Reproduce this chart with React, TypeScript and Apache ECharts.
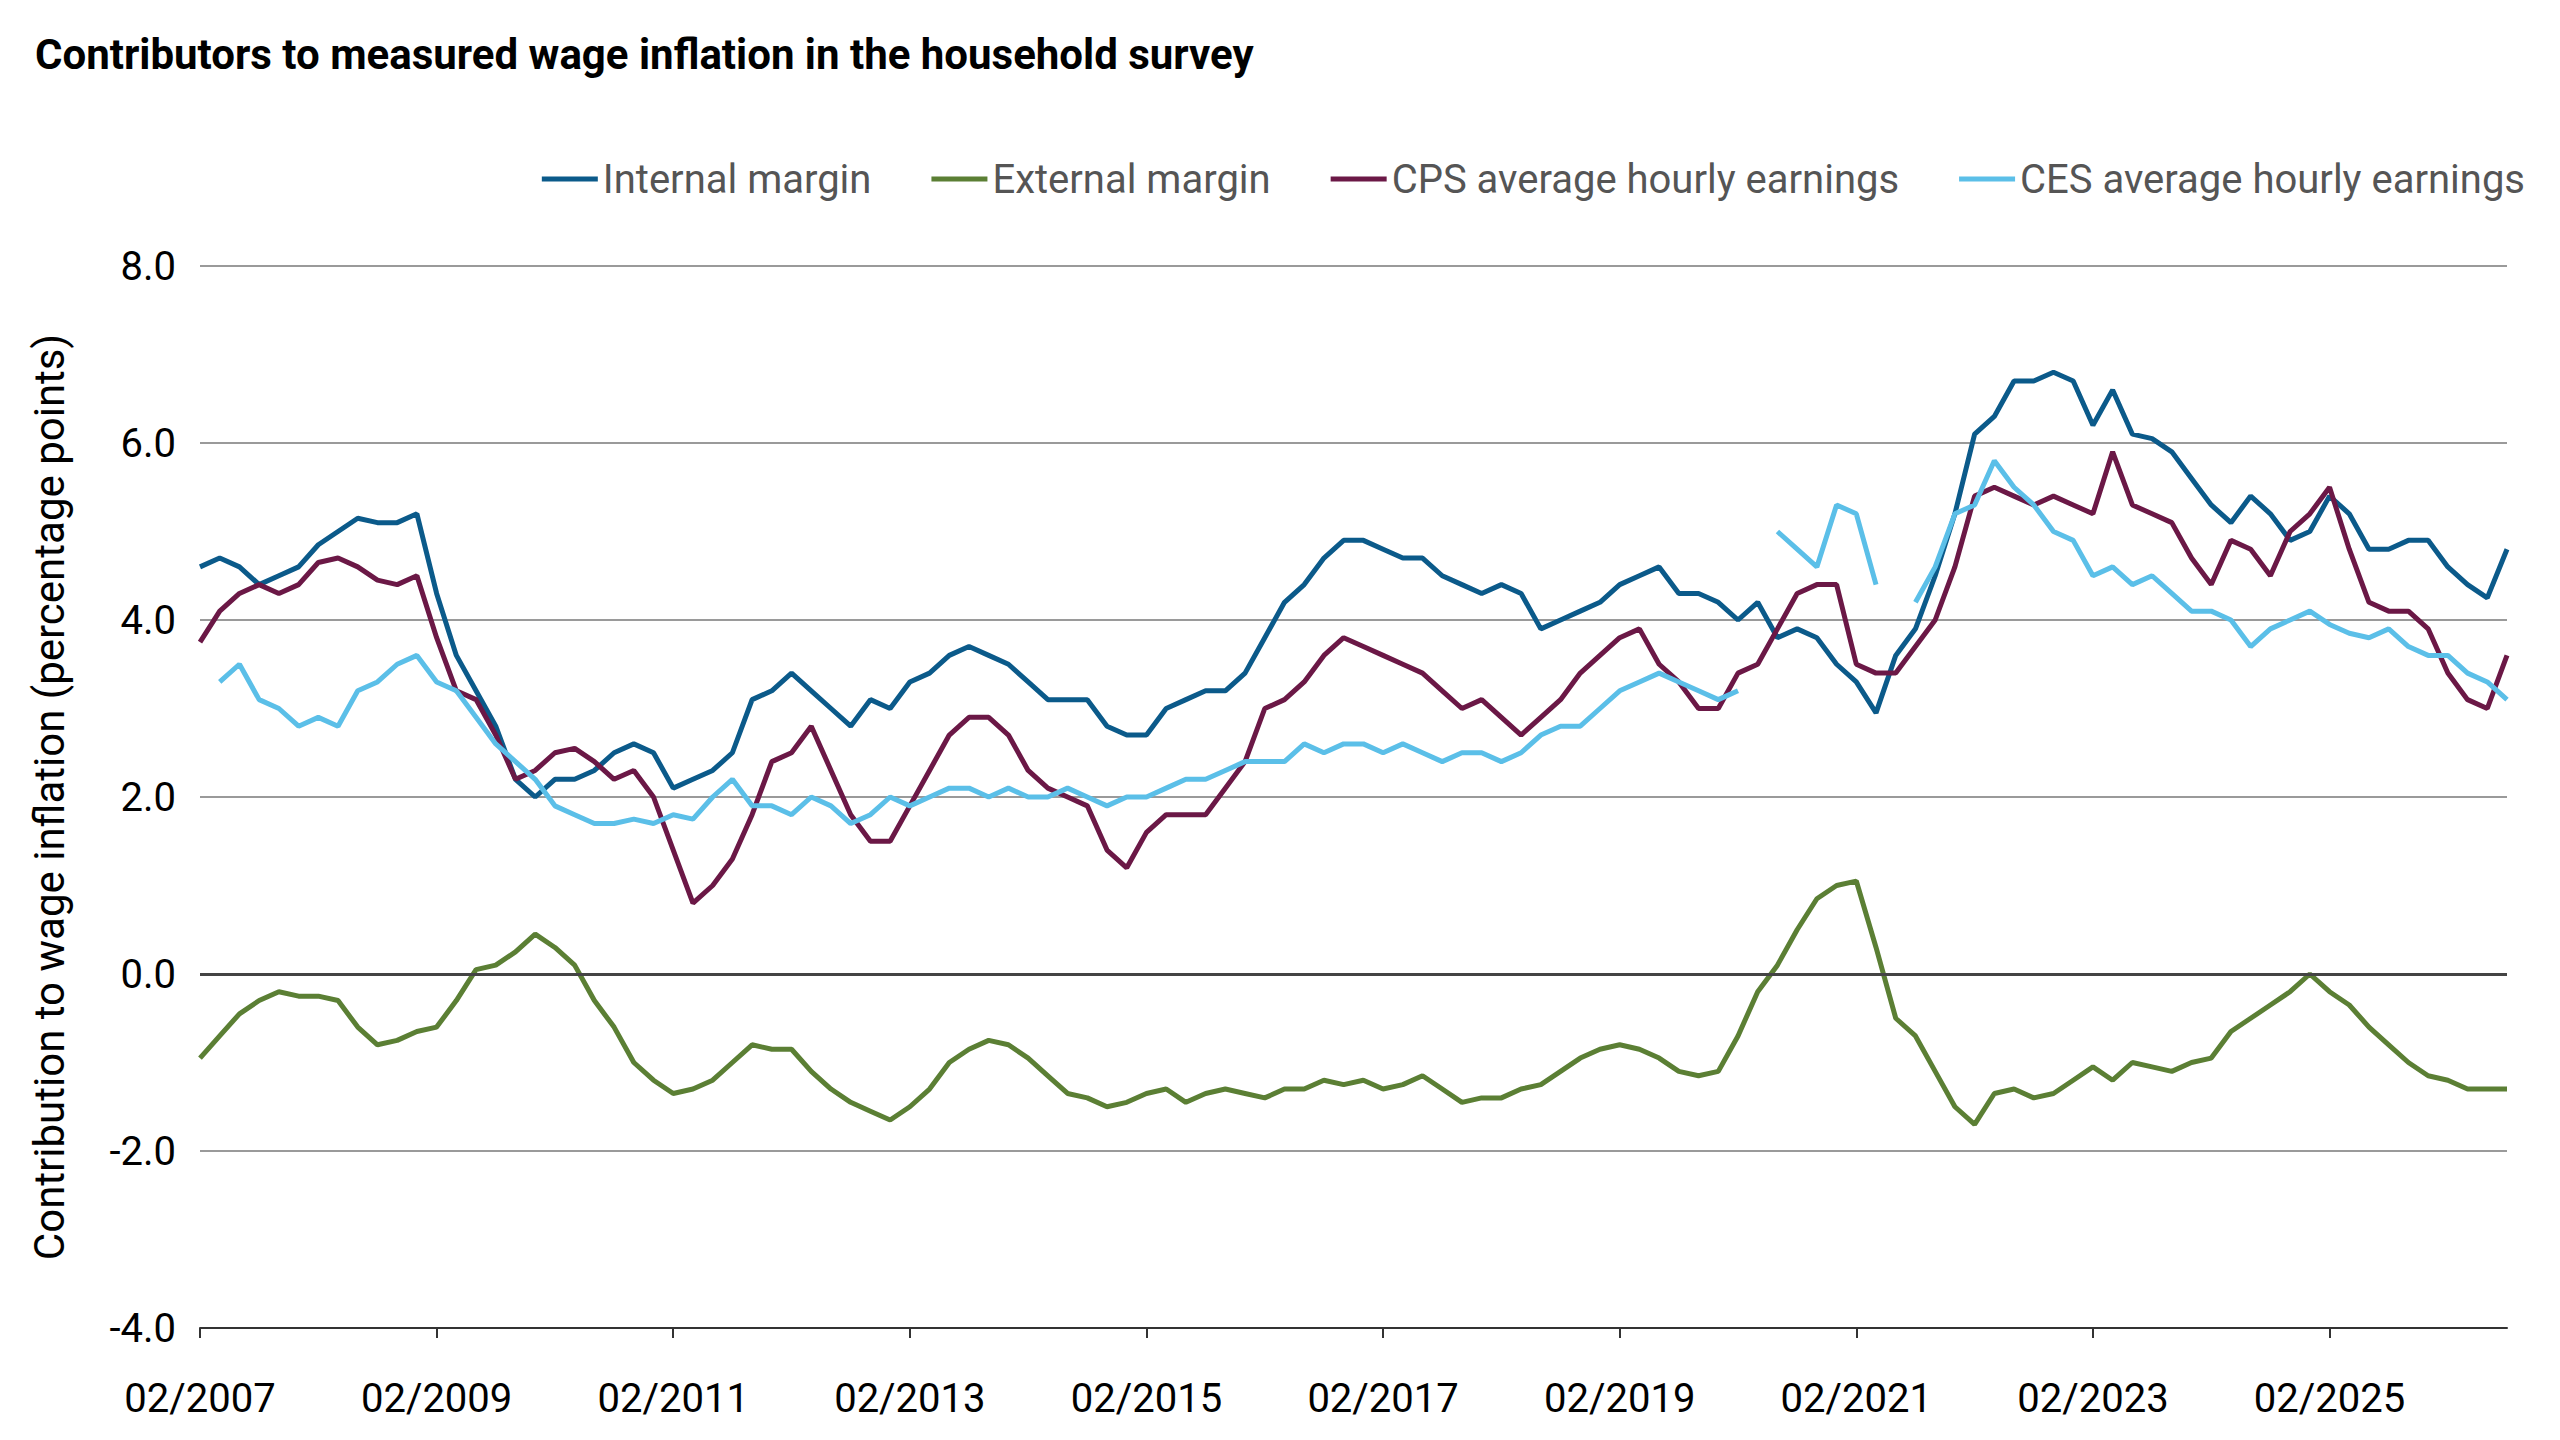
import React, { useEffect, useRef } from 'react';
import * as echarts from 'echarts';

// bimonthly observations, 02/2007 .. 08/2026
const years = Array.from({ length: 20 }, (_, i) => 2007 + i);
const months = ['02', '04', '06', '08', '10', '12'];
const categories: string[] = [];
years.forEach(y => months.forEach(m => { if (y < 2026 || Number(m) <= 8) categories.push(`${m}/${y}`); }));

const internalMargin = [
  4.6, 4.7, 4.6, 4.4, 4.5, 4.6, 4.85, 5.0, 5.15, 5.1, 5.1, 5.2,
  4.3, 3.6, 3.2, 2.8, 2.2, 2.0, 2.2, 2.2, 2.3, 2.5, 2.6, 2.5,
  2.1, 2.2, 2.3, 2.5, 3.1, 3.2, 3.4, 3.2, 3.0, 2.8, 3.1, 3.0,
  3.3, 3.4, 3.6, 3.7, 3.6, 3.5, 3.3, 3.1, 3.1, 3.1, 2.8, 2.7,
  2.7, 3.0, 3.1, 3.2, 3.2, 3.4, 3.8, 4.2, 4.4, 4.7, 4.9, 4.9,
  4.8, 4.7, 4.7, 4.5, 4.4, 4.3, 4.4, 4.3, 3.9, 4.0, 4.1, 4.2,
  4.4, 4.5, 4.6, 4.3, 4.3, 4.2, 4.0, 4.2, 3.8, 3.9, 3.8, 3.5,
  3.3, 2.95, 3.6, 3.9, 4.5, 5.2, 6.1, 6.3, 6.7, 6.7, 6.8, 6.7,
  6.2, 6.6, 6.1, 6.05, 5.9, 5.6, 5.3, 5.1, 5.4, 5.2, 4.9, 5.0,
  5.4, 5.2, 4.8, 4.8, 4.9, 4.9, 4.6, 4.4, 4.25, 4.8,
];
const externalMargin = [
  -0.95, -0.7, -0.45, -0.3, -0.2, -0.25, -0.25, -0.3, -0.6, -0.8, -0.75, -0.65,
  -0.6, -0.3, 0.05, 0.1, 0.25, 0.45, 0.3, 0.1, -0.3, -0.6, -1.0, -1.2,
  -1.35, -1.3, -1.2, -1.0, -0.8, -0.85, -0.85, -1.1, -1.3, -1.45, -1.55, -1.65,
  -1.5, -1.3, -1.0, -0.85, -0.75, -0.8, -0.95, -1.15, -1.35, -1.4, -1.5, -1.45,
  -1.35, -1.3, -1.45, -1.35, -1.3, -1.35, -1.4, -1.3, -1.3, -1.2, -1.25, -1.2,
  -1.3, -1.25, -1.15, -1.3, -1.45, -1.4, -1.4, -1.3, -1.25, -1.1, -0.95, -0.85,
  -0.8, -0.85, -0.95, -1.1, -1.15, -1.1, -0.7, -0.2, 0.1, 0.5, 0.85, 1.0,
  1.05, 0.3, -0.5, -0.7, -1.1, -1.5, -1.7, -1.35, -1.3, -1.4, -1.35, -1.2,
  -1.05, -1.2, -1.0, -1.05, -1.1, -1.0, -0.95, -0.65, -0.5, -0.35, -0.2, 0.0,
  -0.2, -0.35, -0.6, -0.8, -1.0, -1.15, -1.2, -1.3, -1.3, -1.3,
];
const cpsEarnings = [
  3.75, 4.1, 4.3, 4.4, 4.3, 4.4, 4.65, 4.7, 4.6, 4.45, 4.4, 4.5,
  3.8, 3.2, 3.1, 2.7, 2.2, 2.3, 2.5, 2.55, 2.4, 2.2, 2.3, 2.0,
  1.4, 0.8, 1.0, 1.3, 1.8, 2.4, 2.5, 2.8, 2.3, 1.8, 1.5, 1.5,
  1.9, 2.3, 2.7, 2.9, 2.9, 2.7, 2.3, 2.1, 2.0, 1.9, 1.4, 1.2,
  1.6, 1.8, 1.8, 1.8, 2.1, 2.4, 3.0, 3.1, 3.3, 3.6, 3.8, 3.7,
  3.6, 3.5, 3.4, 3.2, 3.0, 3.1, 2.9, 2.7, 2.9, 3.1, 3.4, 3.6,
  3.8, 3.9, 3.5, 3.3, 3.0, 3.0, 3.4, 3.5, 3.9, 4.3, 4.4, 4.4,
  3.5, 3.4, 3.4, 3.7, 4.0, 4.6, 5.4, 5.5, 5.4, 5.3, 5.4, 5.3,
  5.2, 5.9, 5.3, 5.2, 5.1, 4.7, 4.4, 4.9, 4.8, 4.5, 5.0, 5.2,
  5.5, 4.8, 4.2, 4.1, 4.1, 3.9, 3.4, 3.1, 3.0, 3.6,
];
const cesEarnings = [
  null, 3.3, 3.5, 3.1, 3.0, 2.8, 2.9, 2.8, 3.2, 3.3, 3.5, 3.6,
  3.3, 3.2, 2.9, 2.6, 2.4, 2.2, 1.9, 1.8, 1.7, 1.7, 1.75, 1.7,
  1.8, 1.75, 2.0, 2.2, 1.9, 1.9, 1.8, 2.0, 1.9, 1.7, 1.8, 2.0,
  1.9, 2.0, 2.1, 2.1, 2.0, 2.1, 2.0, 2.0, 2.1, 2.0, 1.9, 2.0,
  2.0, 2.1, 2.2, 2.2, 2.3, 2.4, 2.4, 2.4, 2.6, 2.5, 2.6, 2.6,
  2.5, 2.6, 2.5, 2.4, 2.5, 2.5, 2.4, 2.5, 2.7, 2.8, 2.8, 3.0,
  3.2, 3.3, 3.4, 3.3, 3.2, 3.1, 3.2, null, 5.0, 4.8, 4.6, 5.3,
  5.2, 4.4, null, 4.2, 4.6, 5.2, 5.3, 5.8, 5.5, 5.3, 5.0, 4.9,
  4.5, 4.6, 4.4, 4.5, 4.3, 4.1, 4.1, 4.0, 3.7, 3.9, 4.0, 4.1,
  3.95, 3.85, 3.8, 3.9, 3.7, 3.6, 3.6, 3.4, 3.3, 3.1,
];

const FONT = '"Liberation Sans Narrow", "Roboto", sans-serif';

const App: React.FC = () => {
  const chartRef = useRef<HTMLDivElement>(null);

  useEffect(() => {
    if (!chartRef.current) return;
    const chart = echarts.init(chartRef.current, undefined, { renderer: 'svg' });
    const line = (name: string, data: (number | null)[], color: string) => ({
      name, type: 'line', data, showSymbol: false, connectNulls: false,
      lineStyle: { width: 5, color }, itemStyle: { color },
    });
    chart.setOption({
      animation: false,
      textStyle: { fontFamily: FONT },
      title: {
        text: 'Contributors to measured wage inflation in the household survey',
        left: 30, top: 28,
        textStyle: { fontFamily: FONT, fontSize: 42, fontWeight: 'bold', color: '#000' },
      },
      legend: {
        right: 30, top: 154, itemWidth: 56, itemHeight: 5, itemGap: 60,
        icon: 'rect',
        textStyle: { fontFamily: FONT, fontSize: 40, color: '#555' },
      },
      grid: { left: 200, right: 53, top: 266, bottom: 112 },
      xAxis: {
        type: 'category', data: categories, boundaryGap: false,
        axisLine: { onZero: false, lineStyle: { color: '#333', width: 2 } },
        axisTick: { interval: 11, length: 10, lineStyle: { color: '#333', width: 2 } },
        axisLabel: { interval: 11, fontSize: 40, color: '#000', margin: 50, fontFamily: FONT },
      },
      yAxis: {
        type: 'value', min: -4, max: 8, interval: 2,
        name: 'Contribution to wage inflation (percentage points)',
        nameLocation: 'middle', nameGap: 130,
        nameTextStyle: { fontSize: 42, color: '#000', fontFamily: FONT },
        axisLabel: { fontSize: 40, color: '#000', margin: 24, formatter: (v: number) => v.toFixed(1), fontFamily: FONT },
        splitLine: { lineStyle: { color: '#9a9a9a', width: 2 } },
      },
      series: [
        line('Internal margin', internalMargin, '#0b5a8a'),
        line('External margin', externalMargin, '#5b7f34'),
        line('CPS average hourly earnings', cpsEarnings, '#6b1846'),
        { ...line('CES average hourly earnings', cesEarnings, '#5bbfe8'),
          markLine: { silent: true, symbol: 'none', label: { show: false },
            lineStyle: { color: '#444', width: 3, type: 'solid' }, data: [{ yAxis: 0 }] } },
      ],
    });
    return () => chart.dispose();
  }, []);

  return <div ref={chartRef} style={{ position: 'fixed', left: 0, top: 0, width: 2560, height: 1440, background: '#fff' }} />;
};

export default App;
